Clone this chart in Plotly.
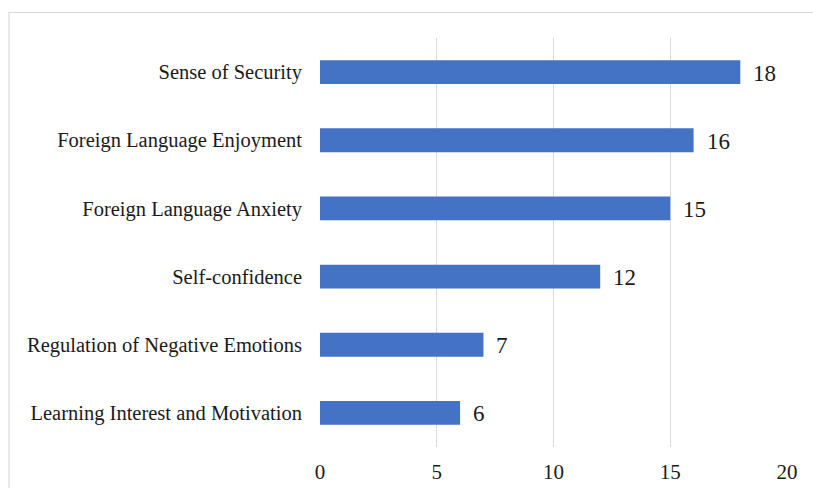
import plotly.graph_objects as go

categories = ["Learning Interest and Motivation", "Regulation of Negative Emotions",
              "Self-confidence", "Foreign Language Anxiety",
              "Foreign Language Enjoyment", "Sense of Security"]
values = [6, 7, 12, 15, 16, 18]
x_ticks = [0, 5, 10, 15, 20]

FONT = "Liberation Serif, Times New Roman, serif"
TXT = "#1a1a1a"

fig = go.Figure(go.Bar(
    x=values, y=categories, orientation="h",
    marker=dict(color="#4472C4", line=dict(width=0)),
    width=0.35, hoverinfo="skip",
))

for c, v in zip(categories, values):
    fig.add_annotation(x=v, y=c, text=str(v), showarrow=False,
                       xanchor="left", yanchor="middle", xshift=11, yshift=-1,
                       font=dict(family=FONT, size=23, color=TXT))

W, H = 813, 488
L, R, T, B = 320, 26, 38, 41
pw, ph = W - L - R, H - T - B

# outer chart border (light gray), extending past the right/bottom edges
fig.add_shape(type="rect", xref="paper", yref="paper",
              x0=(9 - L) / pw, x1=(W + 20 - L) / pw,
              y0=(H - B - (H + 20)) / ph, y1=(H - B - 12.5) / ph,
              line=dict(color="#d9d9d9", width=1.2), fillcolor="rgba(0,0,0,0)")

fig.update_layout(
    width=W, height=H,
    margin=dict(l=L, r=R, t=T, b=B, autoexpand=False),
    paper_bgcolor="white", plot_bgcolor="white",
    showlegend=False, bargap=0.65,
    font=dict(family=FONT, color=TXT),
    xaxis=dict(range=[0, 20], tickvals=x_ticks, showgrid=True, gridcolor="#d9d9d9",
               gridwidth=1, zeroline=False, showline=False, automargin=False,
               tickfont=dict(family=FONT, size=21, color=TXT),
               ticklabelstandoff=10, fixedrange=True),
    yaxis=dict(categoryorder="array", categoryarray=categories, showgrid=False,
               zeroline=False, showline=False, automargin=False,
               tickfont=dict(family=FONT, size=20.5, color=TXT),
               ticklabelstandoff=17, fixedrange=True),
)

fig.write_html("out.html")
